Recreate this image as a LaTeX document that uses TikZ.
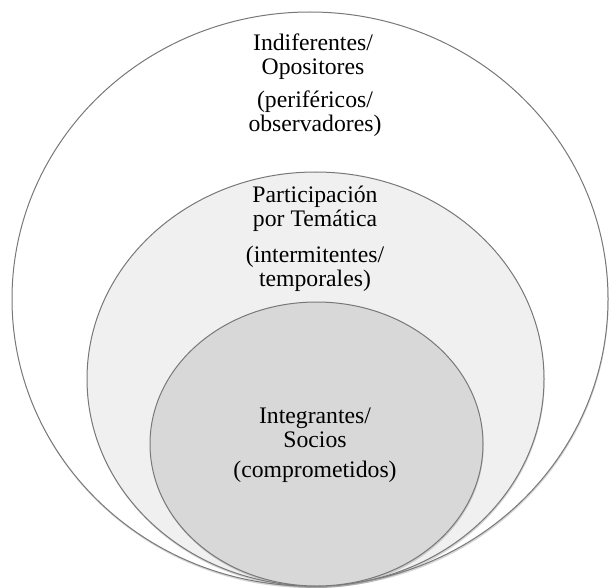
\documentclass[tikz,border=0pt]{standalone}
\usepackage{fontspec}
\setmainfont{Liberation Serif}
\usetikzlibrary{shadows}
\definecolor{ringline}{HTML}{787878}
\definecolor{midfill}{HTML}{F0F0F0}
\definecolor{corefill}{HTML}{D8D8D8}
\begin{document}
\begin{tikzpicture}[x=1pt,y=1pt,
  ring/.style={draw=ringline, line width=1pt,
    drop shadow={opacity=0.33, shadow xshift=0.6pt, shadow yshift=-2pt}},
  label/.style={align=center, anchor=base, inner sep=0pt,
    font=\fontsize{23.7}{24}\selectfont}]
\useasboundingbox (0,0) rectangle (610,-588);
% three nested rings, all touching at the bottom
\path[ring, fill=white]     (310,-299)   ellipse [x radius=298,   y radius=287];
\path[ring, fill=midfill]   (315.5,-379) ellipse [x radius=228.5, y radius=207];
\path[ring, fill=corefill]  (316.5,-444) ellipse [x radius=166.5, y radius=142];
% outer ring (base anchor sits on the last line)
\node[label] (outerA) at (313,-74.3)  {Indiferentes/\\Opositores};
\node[label] (outerB) at (315,-131.7) {(periféricos/\\observadores)};
% middle ring
\node[label] (midA) at (315,-226.7) {Participación\\por Temática};
\node[label] (midB) at (315,-286)   {(intermitentes/\\temporales)};
% core
\node[label] (coreA) at (315,-447.7) {Integrantes/\\Socios};
\node[label] (coreB) at (315,-477.5) {(comprometidos)};
\end{tikzpicture}
\end{document}
